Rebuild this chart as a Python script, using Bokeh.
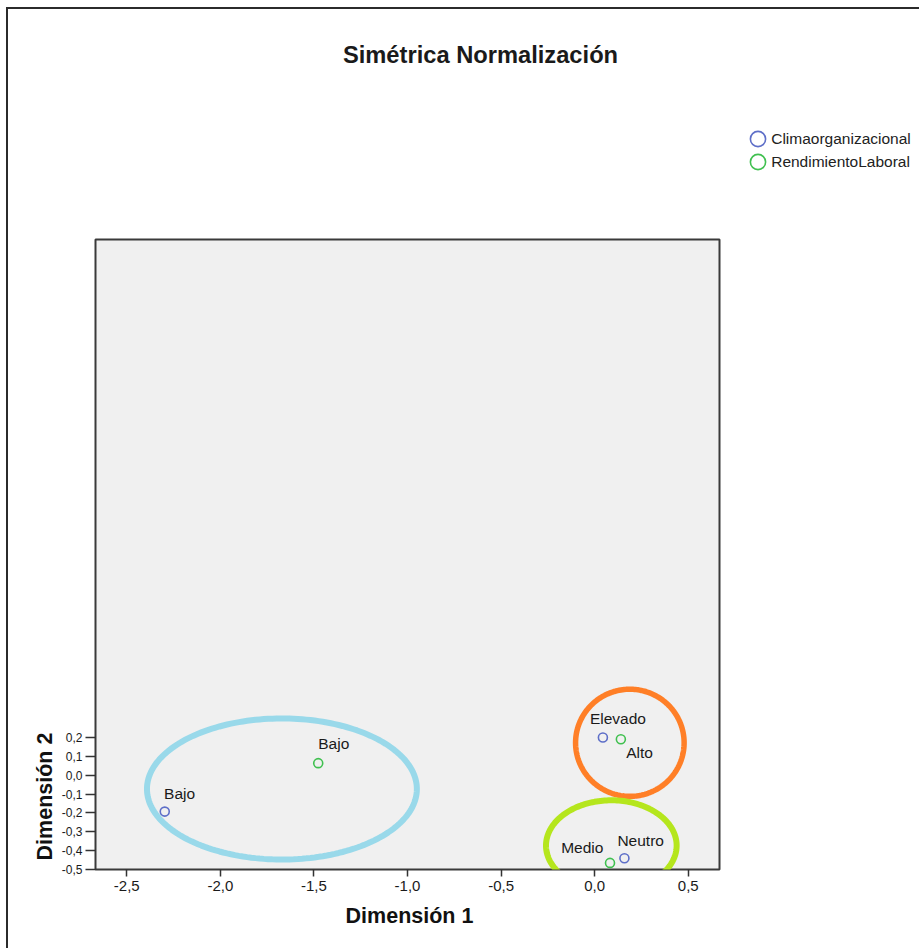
import numpy as np
from bokeh.plotting import figure
from bokeh.models import (Range1d, FixedTicker, CustomJSTickFormatter, Label,
                          PolyAnnotation, ColumnDataSource, Legend, LegendItem)
from bokeh.core.properties import value
from bokeh.embed import file_html
from bokeh.resources import INLINE

# ---------------- data ----------------
clima_cats = ["Bajo", "Elevado", "Neutro"]
clima_dim1 = [-2.297, 0.044, 0.159]
clima_dim2 = [-0.193, 0.200, -0.440]

rend_cats = ["Bajo", "Alto", "Medio"]
rend_dim1 = [-1.477, 0.140, 0.082]
rend_dim2 = [0.064, 0.191, -0.465]

x_ticks = [-2.5, -2.0, -1.5, -1.0, -0.5, 0.0, 0.5]
y_ticks = [-0.5, -0.4, -0.3, -0.2, -0.1, 0.0, 0.1, 0.2]

series_names = ["Climaorganizacional", "RendimientoLaboral"]
title_text = "Simétrica Normalización"
x_title = "Dimensión 1"
y_title = "Dimensión 2"

# ---------------- styling / layout ----------------
FONT = "Liberation Sans"
X0, X1 = -2.667, 0.667
Y0, Y1 = -0.5, 2.841
FL, FT, FW, FH = 95, 239, 624, 630   # frame left/top/size in canvas px
FB = FT + FH
BASE = 0.39  # baseline compensation (em)

def dx(px):
    return X0 + (px - FL) * (X1 - X0) / FW

def dy(py):
    return Y0 + (FB - py) * (Y1 - Y0) / FH

p = figure(frame_width=FW, frame_height=FH,
           x_range=Range1d(X0, X1), y_range=Range1d(Y0, Y1),
           min_border_left=FL, min_border_right=919 - FL - FW,
           min_border_top=FT, min_border_bottom=948 - FB,
           output_backend="svg", toolbar_location=None)
# outer picture frame (left / top edges) drawn as the page background
p.styles = {"background-color": "white",
            "background-image": "linear-gradient(#2b2b2b,#2b2b2b), linear-gradient(#2b2b2b,#2b2b2b)",
            "background-size": "2px 100%, 100% 2px",
            "background-position": "6px 7px, 6px 7px",
            "background-repeat": "no-repeat"}
p.background_fill_color = "#f0f0f0"
p.border_fill_alpha = 0
p.outline_line_color = "#3a3a3a"
p.outline_line_width = 2
p.xgrid.visible = False
p.ygrid.visible = False

fmt = CustomJSTickFormatter(code="return tick.toFixed(1).replace('.', ',');")
p.xaxis.ticker = FixedTicker(ticks=x_ticks)
p.yaxis.ticker = FixedTicker(ticks=y_ticks)
p.xaxis.formatter = fmt
p.yaxis.formatter = fmt
for ax in (p.xaxis[0], p.yaxis[0]):
    ax.axis_line_color = None
    ax.major_tick_in = 0
    ax.minor_tick_line_color = None
    ax.major_tick_line_color = "#333333"
    ax.major_tick_line_width = 1.5
    ax.major_label_text_font = FONT
    ax.major_label_text_color = "#1a1a1a"
p.xaxis.major_tick_out = 7
p.yaxis.major_tick_out = 10
p.xaxis.major_label_text_font_size = "15px"
p.yaxis.major_label_text_font_size = "12px"
p.xaxis.major_label_standoff = 4
p.yaxis.major_label_standoff = 3

blue = "#5e6fc8"
green = "#40c050"

# points drawn as screen-sized circles (ellipse glyph -> larger legend symbol)
r1 = p.ellipse(clima_dim1, clima_dim2, width=9, height=9,
               width_units="screen", height_units="screen",
               fill_color=None, line_color=blue, line_width=1.6)
r2 = p.ellipse(rend_dim1, rend_dim2, width=9, height=9,
               width_units="screen", height_units="screen",
               fill_color=None, line_color=green, line_width=1.6)

# point labels (offsets in screen pixels)
LS = 15.5
sh = -BASE * LS
left_offsets = {("c", "Bajo"): (-0.7, -12.3 + sh), ("c", "Elevado"): (-13, -12.6 + sh),
                ("c", "Neutro"): (-7, -11.7 + sh), ("r", "Bajo"): (0, -13.4 + sh),
                ("r", "Alto"): (5.4, 19 + sh)}
right_offsets = {("r", "Medio"): (-6.6, -9 + sh)}

def label_source(offsets):
    xs, ys, ts, xo, yo = [], [], [], [], []
    for key, (ox, oy) in offsets.items():
        s, name = key
        cats, d1, d2 = (clima_cats, clima_dim1, clima_dim2) if s == "c" else (rend_cats, rend_dim1, rend_dim2)
        i = cats.index(name)
        xs.append(d1[i]); ys.append(d2[i]); ts.append(name); xo.append(ox); yo.append(oy)
    return ColumnDataSource(dict(x=xs, y=ys, text=ts, xo=xo, yo=yo))

for offs, align in ((left_offsets, "left"), (right_offsets, "right")):
    p.text(x="x", y="y", text="text", x_offset="xo", y_offset="yo",
           source=label_source(offs), text_align=align,
           text_baseline="alphabetic", text_font=value(FONT),
           text_font_size=f"{LS}px", text_color="#1a1a1a")

# legend in the right panel
G = 19
SP = 4
LX, LY = 757.7, 138.7   # centre of first legend circle
legend = Legend(items=[LegendItem(label=series_names[0], renderers=[r1]),
                       LegendItem(label=series_names[1], renderers=[r2])],
                glyph_width=G, glyph_height=G, label_height=G, spacing=SP,
                label_standoff=4, padding=0, margin=0,
                border_line_color=None, background_fill_alpha=0,
                label_text_font=FONT, label_text_font_size="15.5px",
                label_text_color="#222222",
                location=(LX - G / 2 - (FL + FW), FB - (LY - G / 2 + 2 * G + SP)))
p.add_layout(legend, "right")

# hand-drawn highlight ellipses (center x, center y, rx, ry, color, width)
highlights = [(-1.671, -0.073, 0.721, 0.374, "#99d9ea", 6),
              (0.188, 0.172, 0.290, 0.284, "#ff7f27", 5.5),
              (0.089, -0.373, 0.349, 0.240, "#b5e61d", 6)]
t = np.linspace(0, 2 * np.pi, 200)
for cx, cy, rx, ry, col, lw in highlights:
    p.add_layout(PolyAnnotation(xs=list(cx + rx * np.cos(t)), ys=list(cy + ry * np.sin(t)),
                                xs_units="data", ys_units="data",
                                fill_alpha=0, line_color=col, line_alpha=1, line_width=lw,
                                level="annotation"))

# titles
TS, AS = 23.7, 21.5
p.add_layout(Label(x=dx(480), y=dy(64 - BASE * TS), text=title_text, text_align="center",
                   text_baseline="alphabetic", text_font=FONT, text_font_size=f"{TS}px",
                   text_font_style="bold", text_color="#1a1a1a"), "above")
p.add_layout(Label(x=dx(409), y=dy(924.3 - BASE * AS), text=x_title, text_align="center",
                   text_baseline="alphabetic", text_font=FONT, text_font_size=f"{AS}px",
                   text_font_style="bold", text_color="#111111"), "below")
p.add_layout(Label(x=dx(52.7 - BASE * AS), y=dy(796), text=y_title, text_align="center",
                   text_baseline="alphabetic", angle=np.pi / 2, text_font=FONT,
                   text_font_size=f"{AS}px", text_font_style="bold", text_color="#111111"), "left")

open("out.html", "w").write(file_html(p, INLINE))
